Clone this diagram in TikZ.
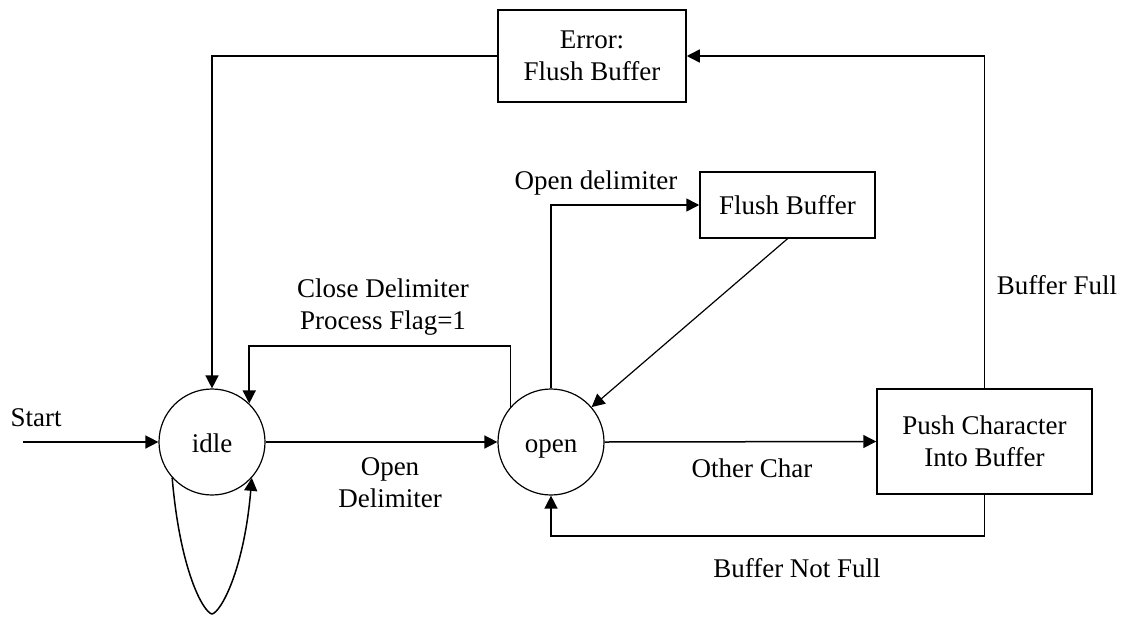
\documentclass[tikz,border=0pt]{standalone}
\usepackage{fontspec}
\setmainfont{Liberation Serif}
\usetikzlibrary{arrows.meta}
\begin{document}
\begin{tikzpicture}[x=1pt,y=-1pt,
  every node/.style={font=\fontsize{27}{32}\selectfont, inner sep=0pt},
  state/.style={circle, draw, line width=1.2pt, minimum size=106pt, text height=20pt, text depth=0pt},
  box/.style={rectangle, draw, line width=1.5pt, align=center},
  lbl/.style={align=center},
  conn/.style={line width=1.5pt},
  arr/.style={conn, -{Triangle[length=13pt,width=13pt]}},
]
\useasboundingbox (0,0) rectangle (1123,616);

% states
\node[state] (idle) at (212,442) {idle};
\node[state] (open) at (551,442) {open};

% action boxes
\node[box, minimum width=188pt, minimum height=92pt] (err) at (592,56) {Error:\\Flush Buffer};
\node[box, minimum width=175pt, minimum height=66pt] (flush) at (787.5,205) {Flush Buffer};
\node[box, minimum width=215pt, minimum height=105pt] (push) at (984.5,441.5) {Push Character\\Into Buffer};

% transition labels
\node[lbl] (lstart) at (36,418) {Start};
\node[lbl] (lopen) at (390,483) {Open\\Delimiter};
\node[lbl] (lclose) at (383,307) {Close Delimiter\\Process Flag=1};
\node[lbl] (lodel) at (596,183) {Open delimiter};
\node[lbl] (lother) at (752,468) {Other Char};
\node[lbl] (lfull) at (1057,285) {Buffer Full};
\node[lbl] (lnotfull) at (797,568) {Buffer Not Full};

% helper points for routed connectors
\coordinate (s0) at (23,442);
\coordinate (closetop) at (0,346);
\coordinate (notfullbot) at (0,536);
\coordinate (loopbot) at (212,614);

% connectors
\draw[arr] (s0) -- (idle.west);
\draw[arr] (idle.east) -- (open.west);
\draw[arr] (open.east) -- (push.west);
\draw[arr] (err.west) -| (idle.north);
\draw[arr] (push.north) |- (err.east);
\draw[arr] (push.south) -- (push.south |- notfullbot) -| (open.south);
\draw[arr] (open.139) |- (idle.46 |- closetop) -- (idle.46);
\draw[arr] (open.north) |- (flush.west);
\draw[arr, line width=1.2pt] (flush.south) -- (open);
% self-loop on idle
\draw[arr] (idle.222) .. controls (180,570) and (203,612) .. (loopbot)
  .. controls (221,612) and (244,570) .. (idle.318);
\end{tikzpicture}
\end{document}
